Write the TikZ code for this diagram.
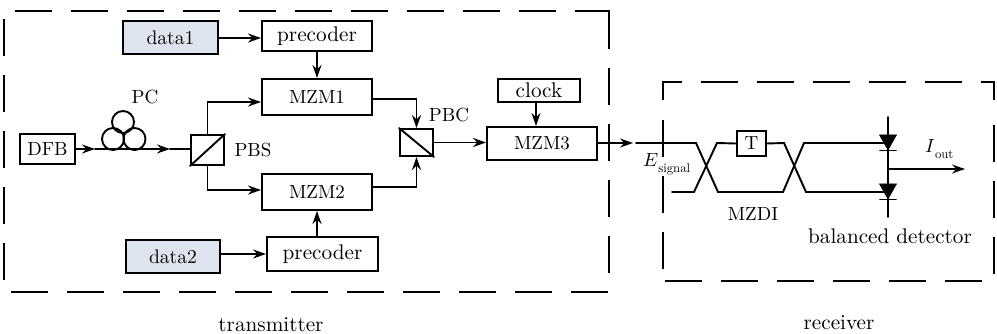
\documentclass[tikz,border=0pt]{standalone}
\usepackage{graphicx}
\usetikzlibrary{arrows.meta}
\definecolor{datafill}{HTML}{DDE4EE}
\newcommand{\uc}[1]{\scalebox{1.9}{#1}}
\newcommand{\lc}[1]{\scalebox{2.12}{#1}}
\newcommand{\dc}[1]{\scalebox{1.96}{#1}}
\newcommand{\subt}[1]{\raisebox{-6pt}{\scalebox{1.27}{#1}}}
\tikzset{
  ln/.style={line width=1.9pt,line cap=round,line join=miter},
  arr/.style={ln,-{Stealth[length=13pt,width=9pt,inset=4.5pt]}},
  blk/.style={draw,line width=2pt,inner sep=0pt},
  datablk/.style={blk,fill=datafill},
  lbl/.style={inner sep=0pt},
  dashline/.style={line width=2pt,dash pattern=on 37pt off 19pt},
  corner/.style={line width=2pt,line join=miter},
  coil/.style={draw,circle,line width=1.9pt,minimum size=22pt,inner sep=0pt},
  diode/.style={fill=black,draw=black,line width=.5pt},
}
\begin{document}
\begin{tikzpicture}[x=1pt,y=-1pt]
\useasboundingbox (0,0) rectangle (997,334);
% transmitter frame
\draw[dashline] (15,11) -- (575,11);
\draw[corner] (575,11) -- (609,11) -- (609,49);
\draw[dashline] (609,68) -- (609,280);
\draw[dashline] (11,292) -- (609,292);
\draw[dashline] (4,19) -- (4,280);
% receiver frame
\draw[corner] (663,100) -- (663,82) -- (682,82);
\draw[dashline] (701,82) -- (981,82);
\draw[corner] (981,82) -- (994,82) -- (994,100);
\draw[dashline] (663,120) -- (663,270);
\draw[dashline] (994,125) -- (994,275);
\draw[dashline] (665,280.5) -- (983,280.5);
% blocks
\node[datablk,minimum width=95pt,minimum height=33pt] (d1) at (170.5,37.5) {\dc{data1}};
\node[blk,minimum width=110pt,minimum height=30pt] (p1) at (317,36) {\lc{precoder}};
\node[blk,minimum width=110pt,minimum height=36pt] (m1) at (317,97) {\uc{MZM1}};
\node[blk,minimum width=110pt,minimum height=36pt] (m2) at (317,192) {\uc{MZM2}};
\node[blk,minimum width=111pt,minimum height=34pt] (p2) at (322.5,254) {\lc{precoder}};
\node[datablk,minimum width=94pt,minimum height=33pt] (d2) at (173,256.5) {\dc{data2}};
\node[blk,minimum width=55pt,minimum height=30pt] (dfb) at (47.5,149) {\uc{DFB}};
\node[blk,minimum width=33pt,minimum height=30pt] (pbs) at (207.5,150) {};
\node[blk,minimum width=33pt,minimum height=27pt] (pbc) at (416.5,142.5) {};
\node[blk,minimum width=110pt,minimum height=33pt] (m3) at (542,143.5) {\uc{MZM3}};
\node[blk,minimum width=82pt,minimum height=23pt] (clk) at (539,90.5) {\lc{clock}};
\node[blk,minimum width=29pt,minimum height=25pt] (t) at (751.5,143.5) {\uc{T}};
% splitter diagonals
\draw[ln] (pbs.south west) -- (pbs.north east);
\draw[ln] (pbc.north west) -- (pbc.south east);
% polarisation controller
\node[coil] (c1) at (123,122) {};
\node[coil] (c2) at (113,139) {};
\node[coil] (c3) at (134.5,139) {};
% labels
\node[lbl] (lpc) at (145,97) {\uc{PC}};
\node[lbl] (lpbs) at (253,150) {\uc{PBS}};
\node[lbl] (lpbc) at (449,115) {\uc{PBC}};
\node[lbl] (lmzdi) at (753,214) {\uc{MZDI}};
\node[lbl] (lbd) at (890,236) {\lc{balanced detector}};
\node[lbl] (ltx) at (271,325) {\lc{transmitter}};
\node[lbl] (lrx) at (839,323) {\lc{receiver}};
\node[lbl,anchor=base west] (les) at (643,167) {\uc{$E$}\subt{signal}};
\node[lbl,anchor=base west] (lio) at (925,153) {\uc{$I$}\subt{out}};
% connectors
\coordinate (a0) at (95,149);
\coordinate (a1) at (170,149);
\draw[arr] (dfb.east) -- (a0);
\draw[arr] (a0) -- (a1);
\draw[ln] (a1) -- (pbs.west |- a1);
\coordinate (y1) at (0,38);
\draw[arr] (d1.east |- y1) -- (p1.west |- y1);
\draw[arr] (p1) -- (m1);
\coordinate (y2) at (0,254);
\draw[arr] (d2.east |- y2) -- (p2.west |- y2);
\draw[arr] (m2.south |- p2.north) -- (m2.south);
\draw[arr] (pbs.north) |- (m1.west |- 0,102);
\draw[arr] (pbs.south) |- (m2.west |- 0,190);
\draw[arr] (m1.east |- 0,99) -| (pbc.north);
\draw[arr] (m2.east |- 0,187) -| (pbc.south);
\draw[arr] (pbc.east) -- (m3.west |- pbc.east);
\coordinate (xc) at (536,0);
\draw[arr] (xc |- clk.south) -- (xc |- m3.north);
\coordinate (esig) at (633,143);
\draw[arr] (m3.east |- esig) -- (esig);
% MZDI
\coordinate (in1) at (636,143);
\coordinate (in2) at (672,192);
\coordinate (dtop) at (888,143);
\coordinate (dbot) at (888,192);
\draw[ln] (in1) -- (696,143) -- (718,192) -- (783,192) -- (804,143) -- (dtop);
\draw[ln] (in2) -- (694,192) -- (717,143) -- (t.west);
\draw[ln] (t.east) -- (784,143) -- (806,192) -- (dbot);
% detector
\coordinate (dn) at (888,117);
\coordinate (ds) at (888,217);
\coordinate (dmid) at (888,169);
\coordinate (iout) at (965,169);
\draw[ln] (dn) -- (ds);
\fill[diode] (879.5,135) -- (896.5,135) -- (888,150) -- cycle;
\fill[diode] (879.5,184) -- (896.5,184) -- (888,199) -- cycle;
\draw[ln] (880,150.5) -- (896,150.5);
\draw[ln] (880,199.5) -- (896,199.5);
\draw[arr] (dmid) -- (iout);
\end{tikzpicture}
\end{document}
